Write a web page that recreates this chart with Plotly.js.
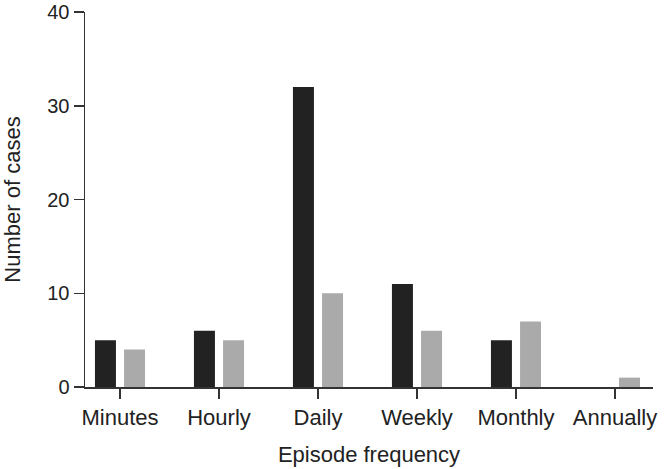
<!DOCTYPE html>
<html>
<head>
<meta charset="utf-8">
<script src="https://cdn.plot.ly/plotly-3.0.1.min.js"></script>
<style>html,body{margin:0;padding:0;background:#fff;}#chart{width:664px;height:469px;}</style>
</head>
<body>
<div id="chart"></div>
<script>
const categories = ["Minutes", "Hourly", "Daily", "Weekly", "Monthly", "Annually"];
const seriesA = [5, 6, 32, 11, 5, 0];
const seriesB = [4, 5, 10, 6, 7, 1];
const yTicks = [0, 10, 20, 30, 40];

const font = "'Liberation Sans', Arial, Helvetica, sans-serif";
const data = [
  {type: "bar", x: categories, y: seriesA, marker: {color: "#222222", line: {width: 0}},
   width: 0.212, offset: -0.253, hoverinfo: "skip"},
  {type: "bar", x: categories, y: seriesB, marker: {color: "#aaaaaa", line: {width: 0}},
   width: 0.212, offset: 0.041, hoverinfo: "skip"}
];
const layout = {
  width: 664, height: 469,
  margin: {l: 85, r: 11, t: 12, b: 82},
  paper_bgcolor: "#fff", plot_bgcolor: "#fff",
  showlegend: false,
  barmode: "overlay",
  font: {family: font, color: "#222", size: 20},
  xaxis: {
    type: "category", range: [-0.3535, 5.384],
    showline: true, linecolor: "#333", linewidth: 1.5,
    ticks: "outside", ticklen: 10, tickwidth: 1.5, tickcolor: "#333",
    showgrid: false, zeroline: false,
    tickfont: {size: 22, family: font, color: "#222"},
    title: {text: "Episode frequency", font: {size: 22, family: font, color: "#222"}, standoff: 17}
  },
  yaxis: {
    range: [0, 40], tickvals: yTicks, ticktext: yTicks.map(String),
    showline: true, linecolor: "#333", linewidth: 1.5,
    ticks: "outside", ticklen: 10, tickwidth: 1.5, tickcolor: "#333",
    showgrid: false, zeroline: false, ticklabeloverflow: "allow",
    tickfont: {size: 20, family: font, color: "#222"},
    title: {text: "Number of cases", font: {size: 22, family: font, color: "#222"}, standoff: 21}
  }
};
Plotly.newPlot("chart", data, layout, {staticPlot: true, displayModeBar: false});
</script>
</body>
</html>
